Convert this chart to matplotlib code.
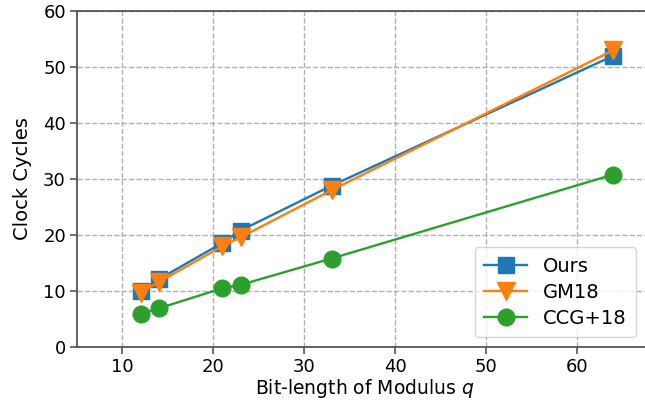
import matplotlib
matplotlib.use("Agg")
import matplotlib.pyplot as plt

bits = [12, 14, 21, 23, 33, 64]
ours = [10.0, 12.1, 18.6, 20.8, 28.8, 52.0]
gm18 = [9.7, 11.6, 18.0, 19.6, 28.0, 53.0]
ccg18 = [5.9, 6.9, 10.5, 11.1, 15.8, 30.8]
xticks = [10, 20, 30, 40, 50, 60]
yticks = [0, 10, 20, 30, 40, 50, 60]

plt.rcParams['font.family'] = ['DejaVu Sans']
fig = plt.figure(figsize=(6.45, 4.01), dpi=100)
ax = fig.add_axes([77/645, 1 - 347/401, (645 - 77)/645 + 0.01, 336/401])

ax.plot(bits, ours, marker='s', markersize=12, linewidth=1.7, color='#1f77b4', label='Ours')
ax.plot(bits, gm18, marker='v', markersize=13, linewidth=1.7, color='#ff7f0e', label='GM18')
ax.plot(bits, ccg18, marker='o', markersize=12, linewidth=1.7, color='#2ca02c', label='CCG+18')

ax.set_xlim(5, 68.2)
ax.set_ylim(0, 60)
ax.set_xticks(xticks)
ax.set_yticks(yticks)
ax.grid(True, linestyle='--', color='#b0b0b0', linewidth=1)
ax.set_axisbelow(True)
for s in ['left', 'bottom', 'top', 'right']:
    ax.spines[s].set_color('#555555')
    ax.spines[s].set_linewidth(1.3)
ax.tick_params(colors='#555555', labelcolor='black', labelsize=13, length=5, width=1.2, pad=3)
ax.set_xlabel('Bit-length of Modulus $q$', fontsize=13.5, labelpad=1)
ax.set_ylabel('Clock Cycles', fontsize=14, labelpad=8)
ax.legend(loc='lower right', fontsize=14, borderpad=0.5, handlelength=2.2,
          labelspacing=0.35, bbox_to_anchor=(0.99, 0.0))
fig.savefig('out.png', dpi=100)
